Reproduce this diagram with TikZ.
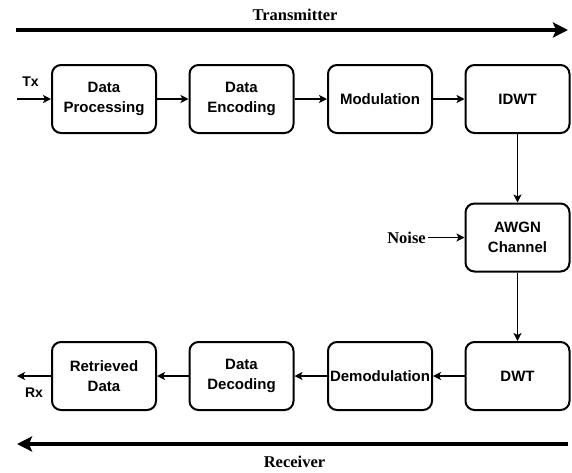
\documentclass[tikz,border=0pt]{standalone}
\usepackage{fontspec}
\setmainfont{Liberation Sans}
\newfontfamily\labelfont{Liberation Serif}
\usetikzlibrary{arrows.meta}

\tikzset{
  block/.style={draw, line width=2pt, rounded corners=9pt, minimum width=104pt,
    minimum height=68pt, align=center, inner sep=1pt,
    font=\fontsize{15}{20}\selectfont\bfseries},
  link/.style={line width=1.5pt, -{Stealth[length=8pt,width=8pt,inset=2pt]}},
  flow/.style={line width=4pt, -{Stealth[length=15pt,width=15pt,inset=3pt]}},
  side/.style={inner sep=2pt, font=\labelfont\fontsize{16.5}{18}\selectfont\bfseries},
  port/.style={inner sep=1pt, font=\fontsize{14}{16}\selectfont\bfseries}
}

\begin{document}
\begin{tikzpicture}[x=1pt,y=-1pt]
	\useasboundingbox (0,0) rectangle (572,472);
	% transmitter chain
	\node[block] (proc) at (104,99) {Data\\Processing};
	\node[block] (enc) at (241.5,99) {Data\\Encoding};
	\node[block] (mod) at (380,99) {Modulation};
	\node[block] (idwt) at (517.5,99) {IDWT};
	% channel
	\node[block] (awgn) at (517.5,237.5) {AWGN\\Channel};
	% receiver chain
	\node[block] (dwt) at (517.5,376) {DWT};
	\node[block] (demod) at (380,376) {Demodulation};
	\node[block] (dec) at (241.5,376) {Data\\Decoding};
	\node[block] (ret) at (104,376) {Retrieved\\Data};

	\coordinate (txin) at (17,99);
	\coordinate (rxout) at (17,376);
	\node[port] (tx) at (30.5,82) {Tx};
	\node[port] (rx) at (34,393) {Rx};
	\node[side] (noise) at (406.5,237.5) {Noise};

	\draw[link] (txin) -- (proc);
	\draw[link] (proc) -- (enc);
	\draw[link] (enc) -- (mod);
	\draw[link] (mod) -- (idwt);
	\draw[link] (idwt) -- (awgn);
	\draw[link] (noise) -- (awgn);
	\draw[link] (awgn) -- (dwt);
	\draw[link] (dwt) -- (demod);
	\draw[link] (demod) -- (dec);
	\draw[link] (dec) -- (ret);
	\draw[link] (ret) -- (rxout);

	% direction arrows
	\coordinate (ta) at (16,30);
	\coordinate (tb) at (568,30);
	\coordinate (ra) at (568,444);
	\coordinate (rb) at (17,444);
	\draw[flow] (ta) -- (tb);
	\draw[flow] (ra) -- (rb);
	\node[side] (tlabel) at (295,15) {Transmitter};
	\node[side] (rlabel) at (294.5,462) {Receiver};
\end{tikzpicture}
\end{document}
